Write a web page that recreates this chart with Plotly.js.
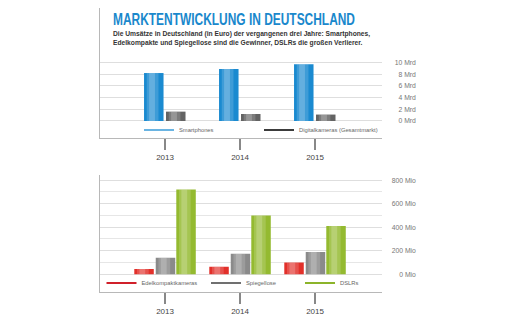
<!DOCTYPE html>
<html>
<head>
<meta charset="utf-8">
<script src="https://cdn.plot.ly/plotly-3.0.1.min.js"></script>
<style>html,body{margin:0;padding:0;background:#fff;}#chart{width:509px;height:326px;}</style>
</head>
<body>
<div id="chart"></div>
<script>
// ---- data ----
const years = ['2013', '2014', '2015'];
const smartphones = [8.2, 8.9, 9.7];          // Mrd Euro
const digitalkameras = [1.6, 1.2, 1.1];       // Mrd Euro
const edelkompakt = [45, 65, 100];            // Mio Euro
const spiegellose = [140, 175, 190];          // Mio Euro
const dslrs = [720, 500, 410];                // Mio Euro
const topTicks = [0, 2, 4, 6, 8, 10];
const topTickText = ['0 Mrd', '2 Mrd', '4 Mrd', '6 Mrd', '8 Mrd', '10 Mrd'];
const botTicks = [0, 200, 400, 600, 800];
const botTickText = ['0 Mio', '200 Mio', '400 Mio', '600 Mio', '800 Mio'];
const botMinor = [100, 300, 500, 700];
const topNames = ['Smartphones', 'Digitalkameras (Gesamtmarkt)'];
const botNames = ['Edelkompaktkameras', 'Spiegellose', 'DSLRs'];
const titleText = 'MARKTENTWICKLUNG IN DEUTSCHLAND';
const subtitleText = 'Die Umsätze in Deutschland (in Euro) der vergangenen drei Jahre: Smartphones,<br>Edelkompakte und Spiegellose sind die Gewinner, DSLRs die großen Verlierer.';

// ---- styles ----
const BW = 0.26;
function bar(x, y, xa, ya, color, offset) {
  return {type: 'bar', x: x, y: y, xaxis: xa, yaxis: ya, width: BW, offset: offset,
          marker: {color: color, line: {width: 0}}, showlegend: false, hoverinfo: 'skip'};
}
function shine(x, y, xa, ya, offset, alpha, wf, of) {
  return {type: 'bar', x: x, y: y, xaxis: xa, yaxis: ya, width: BW * wf, offset: offset + BW * of,
          marker: {color: 'rgba(255,255,255,' + alpha + ')', line: {width: 0}}, showlegend: false, hoverinfo: 'skip'};
}
function legLine(name, color, leg) {
  return {type: 'scatter', mode: 'lines', x: [null], y: [null], name: name,
          line: {color: color, width: 2}, legend: leg, xaxis: 'x', yaxis: 'y', hoverinfo: 'skip'};
}
function holder(xa, ya) {
  return {type: 'scatter', mode: 'none', x: years, y: years.map(() => null), xaxis: xa, yaxis: ya,
          showlegend: false, hoverinfo: 'skip'};
}

const barDefs = [
  [smartphones, 'x', 'y', '#1a8ad0', -0.28],
  [digitalkameras, 'x', 'y', '#636363', 0.013],
  [edelkompakt, 'x2', 'y3', '#e2302a', -0.41],
  [spiegellose, 'x2', 'y3', '#8a8a8a', -0.124],
  [dslrs, 'x2', 'y3', '#94ba30', 0.15]
];
const traces = [];
barDefs.forEach(d => traces.push(bar(years, d[0], d[1], d[2], d[3], d[4])));
barDefs.forEach(d => traces.push(shine(years, d[0], d[1], d[2], d[4], 0.16, 0.6, 0.14)));
barDefs.forEach(d => traces.push(shine(years, d[0], d[1], d[2], d[4], 0.2, 0.3, 0.26)));
traces.push(holder('x', 'y2'), holder('x2', 'y4'));
traces.push(
  legLine(topNames[0], '#6ab4e2', 'legend'),
  legLine(topNames[1], '#3c3c3c', 'legend2'),
  legLine(botNames[0], '#d0202a', 'legend3'),
  legLine(botNames[1], '#707070', 'legend4'),
  legLine(botNames[2], '#8cb42a', 'legend5')
);

const axisLine = '#b8b8b8';
const gridC = '#dedede';
const xCommon = {type: 'category', range: [-0.867, 2.893], domain: [0.1965, 0.7505],
  showline: true, linecolor: axisLine, linewidth: 1, showgrid: false, zeroline: false,
  ticks: 'outside', ticklen: 11, tickcolor: '#888', tickwidth: 1.2,
  tickfont: {family: 'Liberation Sans, Arial, sans-serif', size: 8, color: '#444'}, fixedrange: true};
const labFont = {family: 'Liberation Sans, Arial, sans-serif', size: 6.8, color: '#777'};
const legFont = {family: 'Liberation Sans, Arial, sans-serif', size: 5.8, color: '#666'};
function leg(xpx, ypx) {
  return {orientation: 'h', x: xpx / 509, y: 1 - ypx / 326, xanchor: 'left', yanchor: 'middle',
    bgcolor: 'rgba(0,0,0,0)', borderwidth: 0, font: legFont, itemwidth: 30};
}

const layout = {
  width: 509, height: 326, margin: {l: 0, r: 0, t: 0, b: 0},
  paper_bgcolor: '#fff', plot_bgcolor: '#fff', barmode: 'group',
  xaxis: Object.assign({}, xCommon, {anchor: 'y'}),
  xaxis2: Object.assign({}, xCommon, {anchor: 'y3'}),
  yaxis: {domain: [0.5767, 0.9755], range: [-2.906, 19.32], anchor: 'x',
    showline: true, linecolor: axisLine, showticklabels: false, ticks: '',
    tickmode: 'array', tickvals: topTicks, showgrid: true, gridcolor: gridC, zeroline: false, fixedrange: true},
  yaxis2: {overlaying: 'y', anchor: 'free', position: 0.817, side: 'left', range: [-2.906, 19.32],
    tickmode: 'array', tickvals: topTicks, ticktext: topTickText, showgrid: false, showline: false,
    zeroline: false, ticks: '', tickfont: labFont, fixedrange: true},
  yaxis3: {domain: [0.1034, 0.4632], range: [-153, 844], anchor: 'x2',
    showline: true, linecolor: axisLine, showticklabels: false, ticks: '',
    tickmode: 'array', tickvals: botTicks, showgrid: true, gridcolor: gridC, zeroline: false,
    minor: {tickmode: 'array', tickvals: botMinor, showgrid: true, gridcolor: '#e6e6e6', ticks: ''}, fixedrange: true},
  yaxis4: {overlaying: 'y3', anchor: 'free', position: 0.817, side: 'left', range: [-153, 844],
    tickmode: 'array', tickvals: botTicks, ticktext: botTickText, showgrid: false, showline: false,
    zeroline: false, ticks: '', tickfont: labFont, fixedrange: true},
  legend: leg(139, 130),
  legend2: leg(259, 130),
  legend3: leg(101.5, 283),
  legend4: leg(206, 283),
  legend5: leg(300, 283),
  annotations: [
    {text: '<b>' + titleText + '</b>', xref: 'paper', yref: 'paper', x: 111 / 509, y: 1 - 19 / 326,
     xanchor: 'left', yanchor: 'middle', showarrow: false,
     font: {family: 'Liberation Sans, Arial, sans-serif', size: 16.5, color: '#1a88cc'}},
    {text: '<b>' + subtitleText + '</b>', xref: 'paper', yref: 'paper', x: 111 / 509, y: 1 - 38.5 / 326,
     xanchor: 'left', yanchor: 'middle', align: 'left', showarrow: false,
     font: {family: 'Liberation Sans, Arial, sans-serif', size: 6.7, color: '#333'}}
  ]
};

Plotly.newPlot('chart', traces, layout, {displayModeBar: false, staticPlot: true}).then(function (gd) {
  // condense the headline to the narrow width of the original typeface
  const t = gd.querySelector('.annotation[data-index="0"] text.annotation-text');
  if (t) {
    const bb = t.getBBox();
    t.setAttribute('textLength', 242);
    t.setAttribute('lengthAdjust', 'spacingAndGlyphs');
    t.setAttribute('x', bb.x);
    t.setAttribute('text-anchor', 'start');
  }
});
</script>
</body>
</html>
